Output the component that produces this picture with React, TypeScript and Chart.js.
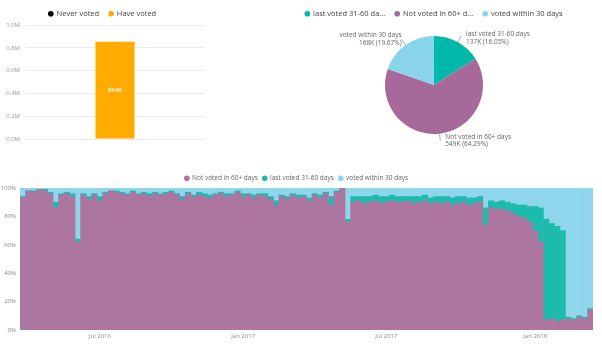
import React, { useEffect, useRef } from "react";
import { Chart, registerables } from "chart.js";

Chart.register(...registerables);

const FONT = "'Open Sans', 'Noto Sans', sans-serif";

// ---------- top-left bar chart ----------
const barCategory = ["Members"];
const neverVotedValues = [0];
const haveVotedValues = [854000];
const barTickValues = [0, 200000, 400000, 600000, 800000, 1000000];

// ---------- pie chart ----------
const pieCategories = ["last voted 31-60 days", "Not voted in 60+ days", "voted within 30 days"];
const pieLegendText = ["last voted 31-60 da...", "Not voted in 60+ d...", "voted within 30 days"];
const pieValues = [137040, 549010, 167950];
const pieColors = ["#01B8AA", "#A66999", "#8AD4EB"];

// ---------- bottom 100% stacked chart (weekly buckets) ----------
const firstWeekStart = [2016, 2, 21]; // 21 Mar 2016
const notVoted60 = [
  93, 98, 97, 99, 98, 96, 86, 95, 96, 94,
  62, 95, 92, 95, 91, 96, 98, 97, 96, 95,
  97, 95, 96, 94, 96, 95, 96, 97, 95, 92,
  96, 94, 95, 94, 93, 95, 96, 94, 95, 97,
  94, 95, 93, 95, 94, 92, 88, 94, 92, 95,
  93, 94, 91, 95, 93, 96, 88, 97, 100, 76,
  90, 91, 89, 90, 91, 89, 90, 91, 90, 90,
  91, 89, 90, 91, 89, 90, 89, 90, 88, 89,
  90, 88, 89, 90, 74, 86, 85, 85, 84, 82,
  80, 79, 76, 70, 62, 7, 8, 6, 7, 8,
  7, 9, 8, 14,
];
const lastVoted3160 = [
  1, 0, 1, 0, 1, 1, 4, 1, 1, 2,
  2, 1, 2, 1, 3, 1, 0, 1, 1, 1,
  1, 1, 1, 2, 1, 1, 1, 1, 1, 2,
  1, 1, 2, 2, 2, 1, 1, 2, 1, 1,
  2, 1, 2, 1, 2, 2, 3, 1, 2, 1,
  2, 1, 2, 1, 2, 1, 6, 1, 0, 2,
  4, 3, 5, 4, 4, 5, 4, 4, 4, 4,
  3, 5, 4, 4, 4, 4, 5, 4, 5, 5,
  4, 5, 4, 4, 12, 5, 5, 6, 6, 7,
  8, 9, 11, 17, 24, 71, 67, 67, 63, 1,
  1, 1, 1, 1,
];
const within30 = [
  6, 2, 2, 1, 1, 3, 10, 4, 3, 4,
  36, 4, 6, 4, 6, 3, 2, 2, 3, 4,
  2, 4, 3, 4, 3, 4, 3, 2, 4, 6,
  3, 5, 3, 4, 5, 4, 3, 4, 4, 2,
  4, 4, 5, 4, 4, 6, 9, 5, 6, 4,
  5, 5, 7, 4, 5, 3, 6, 2, 0, 22,
  6, 6, 6, 6, 5, 6, 6, 5, 6, 6,
  6, 6, 6, 5, 7, 6, 6, 6, 7, 6,
  6, 7, 7, 6, 14, 9, 10, 9, 10, 11,
  12, 12, 13, 13, 14, 22, 25, 27, 30, 91,
  92, 90, 91, 85,
];
const percentTicks = [0, 20, 40, 60, 80, 100];
const MONTHS = ["Jan", "Feb", "Mar", "Apr", "May", "Jun", "Jul", "Aug", "Sep", "Oct", "Nov", "Dec"];

const weekLabels = notVoted60.map((_, i) => {
  const d = new Date(Date.UTC(firstWeekStart[0], firstWeekStart[1], firstWeekStart[2] + 7 * i));
  return d.toISOString().slice(0, 10);
});

function weekTickLabel(index: number): string {
  const label = weekLabels[index];
  if (!label) return "";
  const start = new Date(label + "T00:00:00Z").getTime();
  for (let k = 0; k < 7; k++) {
    const d = new Date(start + k * 86400000);
    if (d.getUTCDate() === 1 && (d.getUTCMonth() === 0 || d.getUTCMonth() === 6)) {
      return `${MONTHS[d.getUTCMonth()]} ${d.getUTCFullYear()}`;
    }
  }
  return "";
}

const legendLabels = (size: number, padding: number, color: string) => ({
  usePointStyle: true,
  pointStyle: "circle",
  boxWidth: 4,
  boxHeight: 4,
  padding,
  color,
  font: { family: FONT, size },
});

const barValuePlugin = {
  id: "barValue",
  afterDatasetsDraw(chart: any) {
    const meta = chart.getDatasetMeta(1);
    const ctx = chart.ctx;
    meta.data.forEach((el: any, i: number) => {
      const { x, y, base } = el.getProps(["x", "y", "base"], true);
      ctx.save();
      ctx.fillStyle = "#ffffff";
      ctx.font = `600 6px ${FONT}`;
      ctx.textAlign = "center";
      ctx.textBaseline = "middle";
      ctx.fillText(Math.round(haveVotedValues[i] / 1000) + "K", x, (y + base) / 2);
      ctx.restore();
    });
  },
};

const pieLabelPlugin = {
  id: "pieLabels",
  afterDraw(chart: any) {
    const meta = chart.getDatasetMeta(0);
    const ctx = chart.ctx;
    const total = pieValues.reduce((a, b) => a + b, 0);
    meta.data.forEach((arc: any, i: number) => {
      const { x, y, startAngle, endAngle, outerRadius } = arc.getProps(
        ["x", "y", "startAngle", "endAngle", "outerRadius"],
        true
      );
      const mid = (startAngle + endAngle) / 2;
      const c = Math.cos(mid);
      const s = Math.sin(mid);
      const x0 = x + c * outerRadius;
      const y0 = y + s * outerRadius;
      const x1 = x + c * (outerRadius + 7);
      const y1 = y + s * (outerRadius + 7);
      ctx.save();
      ctx.strokeStyle = "#b0b0b0";
      ctx.lineWidth = 1;
      ctx.beginPath();
      ctx.moveTo(x0, y0);
      ctx.lineTo(x1, y1);
      ctx.stroke();
      const v = pieValues[i];
      const lines = [pieCategories[i], `${Math.round(v / 1000)}K (${((v / total) * 100).toFixed(2)}%)`];
      ctx.font = `6.5px ${FONT}`;
      ctx.fillStyle = "#666666";
      ctx.textBaseline = "middle";
      let tx: number;
      let cy: number;
      if (c >= 0) {
        ctx.textAlign = "left";
        tx = x1 + 5;
        cy = y1 + (s < 0 ? 2 : 0);
      } else {
        ctx.textAlign = "right";
        tx = x1;
        cy = y1;
      }
      ctx.fillText(lines[0], tx, cy - 3.8);
      ctx.fillText(lines[1], tx, cy + 3.8);
      ctx.restore();
    });
  },
};

function useChart(ref: any, make: () => any) {
  useEffect(() => {
    const chart = new Chart(ref.current, make());
    return () => chart.destroy();
  }, []);
}

export default function App() {
  const barRef = useRef<HTMLCanvasElement>(null);
  const pieRef = useRef<HTMLCanvasElement>(null);
  const stackRef = useRef<HTMLCanvasElement>(null);

  useEffect(() => {
    document.body.style.margin = "0";
  }, []);

  useChart(barRef, () => ({
    type: "bar",
    data: {
      labels: barCategory,
      datasets: [
        { label: "Never voted", data: neverVotedValues, backgroundColor: "#000000", borderWidth: 0 },
        { label: "Have voted", data: haveVotedValues, backgroundColor: "#FFAB00", borderWidth: 0 },
      ],
    },
    options: {
      responsive: false,
      animation: false,
      layout: { padding: { left: 0, right: 5, top: 0, bottom: 11 } },
      datasets: { bar: { barPercentage: 0.217, categoryPercentage: 1 } },
      plugins: {
        legend: { position: "top", maxHeight: 25, labels: legendLabels(7.5, 10, "#444444") },
        tooltip: { enabled: false },
      },
      scales: {
        x: { display: false, stacked: true },
        y: {
          stacked: true,
          min: 0,
          max: 1000000,
          afterBuildTicks: (s: any) => {
            s.ticks = barTickValues.map((v) => ({ value: v }));
          },
          ticks: {
            callback: (v: any) => (Number(v) / 1000000).toFixed(1) + "M",
            color: "#999999",
            font: { family: FONT, size: 6 },
            padding: 5,
          },
          grid: { color: "#ebebeb", drawTicks: false },
          border: { display: false },
          afterFit: (s: any) => {
            s.width = 25;
          },
        },
      },
    },
    plugins: [barValuePlugin],
  }));

  useChart(pieRef, () => ({
    type: "pie",
    data: {
      labels: pieCategories,
      datasets: [{ data: pieValues, backgroundColor: pieColors, borderWidth: 0, radius: 49 }],
    },
    options: {
      responsive: false,
      animation: false,
      layout: { padding: { bottom: 15 } },
      plugins: {
        legend: {
          position: "top",
          maxHeight: 25,
          labels: {
            ...legendLabels(7.5, 10, "#444444"),
            generateLabels: (chart: any) => {
              const items = (Chart as any).overrides.doughnut.plugins.legend.labels.generateLabels(chart);
              return items.map((it: any, i: number) => ({ ...it, text: pieLegendText[i] }));
            },
          },
        },
        tooltip: { enabled: false },
      },
    },
    plugins: [pieLabelPlugin],
  }));

  useChart(stackRef, () => ({
    type: "bar",
    data: {
      labels: weekLabels,
      datasets: [
        { label: "Not voted in 60+ days", data: notVoted60, backgroundColor: "#AC76A0" },
        { label: "last voted 31-60 days", data: lastVoted3160, backgroundColor: "#1DBBAE" },
        { label: "voted within 30 days", data: within30, backgroundColor: "#8FD5EC" },
      ],
    },
    options: {
      responsive: false,
      animation: false,
      layout: { padding: { left: 0, right: 9, top: 0, bottom: 0 } },
      datasets: { bar: { barPercentage: 1, categoryPercentage: 1, borderWidth: 0 } },
      plugins: {
        legend: { position: "top", maxHeight: 18, labels: legendLabels(6.5, 5, "#666666") },
        tooltip: { enabled: false },
      },
      scales: {
        x: {
          stacked: true,
          grid: { display: false, drawTicks: false },
          border: { display: false },
          ticks: {
            autoSkip: false,
            maxRotation: 0,
            minRotation: 0,
            padding: 3,
            color: "#888888",
            font: { family: FONT, size: 6 },
            callback: (_v: any, index: number) => weekTickLabel(index),
          },
          afterFit: (s: any) => {
            s.height = 14;
          },
        },
        y: {
          stacked: true,
          min: 0,
          max: 100,
          afterBuildTicks: (s: any) => {
            s.ticks = percentTicks.map((v) => ({ value: v }));
          },
          ticks: {
            callback: (v: any) => v + "%",
            padding: 4,
            color: "#888888",
            font: { family: FONT, size: 6 },
          },
          grid: { display: false, drawTicks: false },
          border: { display: false },
          afterFit: (s: any) => {
            s.width = 20;
          },
        },
      },
    },
  }));

  return (
    <div style={{ position: "absolute", left: 0, top: 0, width: 602, height: 344, background: "#fff", overflow: "hidden" }}>
      <canvas ref={barRef} width={210} height={150} style={{ position: "absolute", left: 0, top: 0 }} />
      <canvas ref={pieRef} width={328} height={160} style={{ position: "absolute", left: 270, top: 0 }} />
      <canvas ref={stackRef} width={602} height={174} style={{ position: "absolute", left: 0, top: 170 }} />
    </div>
  );
}
